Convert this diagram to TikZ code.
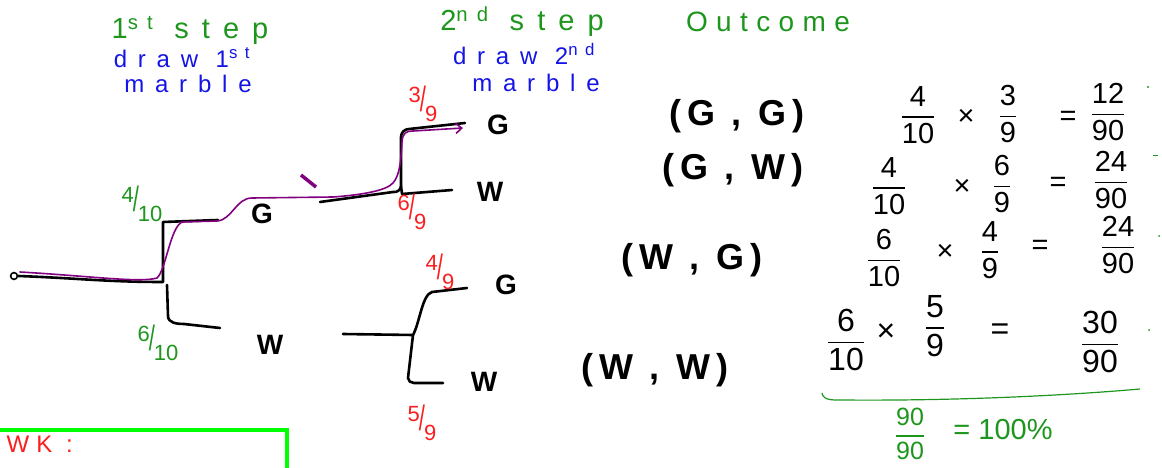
\documentclass[tikz,border=0pt]{standalone}
\usepackage{fontspec}
\usepackage{amsmath}
\setmainfont{Liberation Sans}
\usetikzlibrary{arrows.meta}
\definecolor{hgreen}{RGB}{30,150,30}
\definecolor{hblue}{RGB}{20,20,230}
\definecolor{hred}{RGB}{250,30,30}
\definecolor{hpurple}{RGB}{128,0,128}
\definecolor{lime}{RGB}{0,255,0}
\newcommand\sfr[2]{\raisebox{0.4em}{#1}\kern-1pt\scalebox{1}[1.6]{/}\kern-1pt\raisebox{-0.45em}{#2}}
\newcommand\vfr[2]{$\genfrac{}{}{1.6pt}{0}{\text{#1}}{\text{#2}}$}
\begin{document}
\begin{tikzpicture}[x=1pt,y=-1pt,
  hd/.style={text=hgreen,font=\fontsize{29}{31}\selectfont\addfontfeature{LetterSpace=45}},
  oc/.style={text=hgreen,font=\fontsize{28}{30}\selectfont\addfontfeature{LetterSpace=30}},
  bl/.style={text=hblue,font=\fontsize{24}{26}\selectfont\addfontfeature{LetterSpace=45}, inner sep=1pt},
  lbl/.style={font=\fontsize{28}{30}\selectfont\bfseries},
  prb/.style={font=\fontsize{22}{24}\selectfont},
  outc/.style={font=\fontsize{36}{38}\selectfont\bfseries\addfontfeature{LetterSpace=18}},
  calc/.style={font=\fontsize{29}{31}\selectfont, inner sep=1pt},
  calcb/.style={font=\fontsize{32}{34}\selectfont, inner sep=1pt},
  br/.style={line width=2.6pt, line cap=round, line join=round},
  pur/.style={hpurple, line width=1.6pt, line cap=round}]
\useasboundingbox (0,0) rectangle (1162,468);

% headings
\node[hd] (h1) at (190,30) {1\textsuperscript{st} step};
\node[bl] (d1) at (182,58) {draw 1\textsuperscript{st}};
\node[bl] (m1) at (188,84) {marble};
\node[hd] (h2) at (522,22) {2\textsuperscript{nd} step};
\node[bl] (d2) at (524,54) {draw 2\textsuperscript{nd}};
\node[bl] (m2) at (536,83) {marble};
\node[oc] (oc) at (768,22) {Outcome};

% tree nodes
\node[circle,draw,line width=1.6pt,inner sep=2.4pt] (s) at (14,276) {};
\node[lbl] (g1) at (262,214) {G};
\node[lbl] (w1) at (270,345) {W};
\node[lbl] (gg) at (498,125) {G};
\node[lbl] (gw) at (490,192) {W};
\node[lbl] (wg) at (506,285) {G};
\node[lbl] (ww) at (484,382) {W};

% stage 1 branches
\coordinate (j1) at (163,282);
\coordinate (a1) at (218,220);
\coordinate (a2) at (220,328);
\draw[br] (s.east) to[out=-2,in=180] (j1) -- (163,222) -- (a1);
\draw[br] (167,285) -- (168,316) to[out=-90,in=180] (184,324) -- (a2);

% stage 2 upper
\coordinate (b0) at (320,202);
\coordinate (j2) at (401,186);
\coordinate (b1) at (465,123);
\coordinate (b2) at (452,190);
\draw[br] (b0) -- (393,192) to[out=-10,in=-90] (j2) -- (401,137) to[out=90,in=180] (409,129) -- (b1);
\draw[br] (j2) -- (402,194) -- (b2);

% stage 2 lower
\coordinate (c0) at (343,334);
\coordinate (j3) at (413,335);
\coordinate (c1) at (467,288);
\coordinate (c2) at (443,383);
\draw[br] (c0) -- (j3) .. controls (420,322) and (422,295) .. (432,292) -- (c1);
\draw[br] (j3) -- (408,378) to[out=-90,in=180] (414,383) -- (c2);

% purple path
\draw[pur,-{Straight Barb[length=6pt,width=10pt,line width=1.6pt]}] (20,272) .. controls (90,276) and (140,283) .. (157,278)
  .. controls (166,270) and (170,228) .. (182,222) -- (217,221)
  .. controls (232,220) and (236,198) .. (252,198) -- (333,197)
  .. controls (360,195) and (386,191) .. (393,183)
  .. controls (400,175) and (401,160) .. (402,141)
  .. controls (403,133) and (406,131) .. (413,131) -- (463,128);
\draw[hpurple,line width=3.5pt] (301,175) -- (316,187);

% branch probabilities
\node[prb,text=hgreen] (p1) at (142,204) {\sfr{4}{10}};
\node[prb,text=hgreen] (p2) at (158,343) {\sfr{6}{10}};
\node[prb,text=hred] (p3) at (423,104) {\sfr{3}{9}};
\node[prb,text=hred] (p4) at (412,212) {\sfr{6}{9}};
\node[prb,text=hred] (p5) at (440,272) {\sfr{4}{9}};
\node[prb,text=hred] (p6) at (422,423) {\sfr{5}{9}};

% outcomes
\node[outc] (o1) at (737,116) {(G , G)};
\node[outc] (o2) at (733,170) {(G , W)};
\node[outc] (o3) at (692,260) {(W , G)};
\node[outc] (o4) at (655,370) {(W , W)};

% calculations
\node[calc] at (918,115) {\vfr{4}{10}};
\node[calc] at (966,117) {×};
\node[calc] at (1008,114) {\vfr{3}{9}};
\node[calc] at (1068,118) {=};
\node[calc] at (1108,112) {\vfr{12}{90}};

\node[calc] at (889,186) {\vfr{4}{10}};
\node[calc] at (962,187) {×};
\node[calc] at (1002,184) {\vfr{6}{9}};
\node[calc] at (1058,184) {=};
\node[calc] at (1111,180) {\vfr{24}{90}};

\node[calc] at (884,258) {\vfr{6}{10}};
\node[calc] at (945,252) {×};
\node[calc] at (990,250) {\vfr{4}{9}};
\node[calc] at (1040,247) {=};
\node[calc] at (1118,245) {\vfr{24}{90}};

\node[calcb] at (846,340) {\vfr{6}{10}};
\node[calcb] at (886,333) {×};
\node[calcb] at (935,326) {\vfr{5}{9}};
\node[calcb] at (1000,332) {=};
\node[calcb] at (1100,342) {\vfr{30}{90}};

% sum line and total
\draw[hgreen,line width=1.2pt] (822,393) to[out=-80,in=180] (840,400) .. controls (950,401) and (1060,396) .. (1140,389);
\node[font=\fontsize{25}{27}\selectfont, inner sep=0pt,text=hgreen] (tot) at (910,434) {\vfr{90}{90}};
\node[calc,text=hgreen] (pc) at (1003,430) {= 100\%};

% small marks on right edge
\fill[hgreen] (1148,87) circle (1.2);
\draw[hgreen,line width=1pt] (1153,156) -- (1158,156);
\fill[hgreen] (1159,236) circle (1);
\fill[hgreen] (1149,330) circle (1);

% green box
\draw[lime,line width=4pt] (-5,430) -- (287,430) -- (287,475);
\node[text=hred,font=\fontsize{24}{26}\selectfont\addfontfeature{LetterSpace=30},anchor=west] (wk) at (3,444) {WK :};
\end{tikzpicture}
\end{document}
